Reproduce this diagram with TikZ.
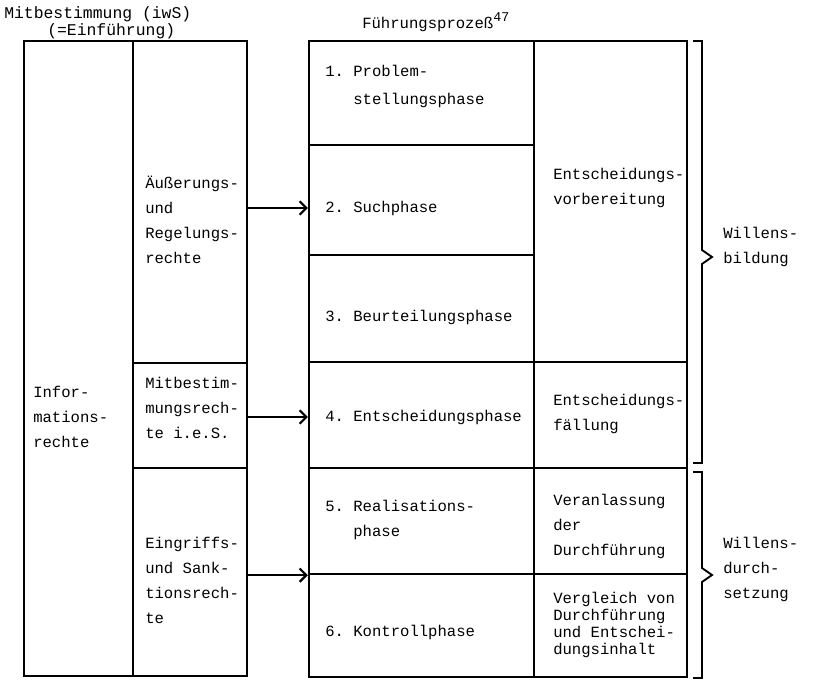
\documentclass[tikz,border=0pt]{standalone}
\usepackage{fontspec}
\newfontfamily\typefont{Liberation Mono}
\usetikzlibrary{arrows.meta,fit}
\frenchspacing

\tikzset{
	cell/.style={draw, line width=1.8pt, inner sep=0pt},
	txt/.style={font=\typefont\fontsize{11.7}{18.75}\selectfont, align=left, anchor=west, inner sep=0pt},
	title/.style={txt, font=\typefont\fontsize{12.3}{14}\selectfont},
	arr/.style={line width=1.6pt, -{Straight Barb[length=5pt,width=10pt,line width=1.6pt]}},
	brace/.style={line width=1.4pt, line join=miter}
}

\begin{document}
\begin{tikzpicture}[x=0.75pt,y=0.75pt,yscale=-1,xscale=1]
	\useasboundingbox (0,0) rectangle (834,680);

	% Mitbestimmung
	\node [cell, fit={(24,41) (133,676)}] (infor) {};
	\node [cell, fit={(133,41) (247,363)}] (aeus) {};
	\node [cell, fit={(133,363) (247,468)}] (mitb) {};
	\node [cell, fit={(133,468) (247,676)}] (eingr) {};

	% Fuehrungsprozess
	\node [cell, fit={(309,41) (534,145)}] (ph1) {};
	\node [cell, fit={(309,145) (534,255)}] (ph2) {};
	\node [cell, fit={(309,255) (534,362)}] (ph3) {};
	\node [cell, fit={(309,362) (534,468)}] (ph4) {};
	\node [cell, fit={(309,468) (534,574)}] (ph5) {};
	\node [cell, fit={(309,574) (534,677)}] (ph6) {};
	\node [cell, fit={(534,41) (687,362)}] (vorb) {};
	\node [cell, fit={(534,362) (687,468)}] (faell) {};
	\node [cell, fit={(534,468) (687,574)}] (veranl) {};
	\node [cell, fit={(534,574) (687,677)}] (vergl) {};

	% Titles
	\node [title] (tmitb) at (4,14) {Mitbestimmung (iwS)};
	\node [title] (teinf) at (47,31) {(=Einführung)};
	\node [txt] (tfuehr) at (362,22) {Führungsprozeß\raisebox{0.9ex}{\fontsize{10}{10}\selectfont 47}};

	% Text Node
	\node [txt] (tinfor) at (33,417) {Infor-\\mations-\\rechte};
	\node [txt] (taeus) at (145,220) {Äußerungs-\\und\\Regelungs-\\rechte};
	\node [txt] (tmitbr) at (145,408) {Mitbestim-\\mungsrech-\\te i.e.S.};
	\node [txt] (teingr) at (145,580) {Eingriffs-\\und Sank-\\tionsrech-\\te};

	\node [txt, font=\typefont\fontsize{11.7}{21}\selectfont] (tph1) at (325,86) {1. Problem-\\\hphantom{1.~}stellungsphase};
	\node [txt] (tph2) at (325,208) {2. Suchphase};
	\node [txt] (tph3) at (325,317) {3. Beurteilungsphase};
	\node [txt] (tph4) at (325,417) {4. Entscheidungsphase};
	\node [txt] (tph5) at (325,520) {5. Realisations-\\\hphantom{5.~}phase};
	\node [txt] (tph6) at (325,632) {6. Kontrollphase};

	\node [txt] (tvorb) at (553,188) {Entscheidungs-\\vorbereitung};
	\node [txt] (tfaell) at (553,414) {Entscheidungs-\\fällung};
	\node [txt] (tveranl) at (553,526) {Veranlassung\\der\\Durchführung};
	\node [txt, font=\typefont\fontsize{11.7}{12.75}\selectfont] (tvergl) at (553,625) {Vergleich von\\Durchführung\\und Entschei-\\dungsinhalt};

	\node [txt] (tbild) at (723,247) {Willens-\\bildung};
	\node [txt] (tdurch) at (723,569) {Willens-\\durch-\\setzung};

	% Arrows
	\draw [arr] (aeus.east |- tph2) -- (ph2.west |- tph2);
	\draw [arr] (mitb.east |- tph4) -- (ph4.west |- tph4);
	\draw [arr] (eingr.east |- ph5.south) -- (ph5.south west);

	% Braces
	\draw [brace] (693,41) -- (702,41) -- (702,250) -- (712,257) -- (702,264) -- (702,463) -- (693,463);
	\draw [brace] (693,472) -- (702,472) -- (702,568) -- (712,575) -- (702,582) -- (702,678) -- (693,678);
\end{tikzpicture}
\end{document}
